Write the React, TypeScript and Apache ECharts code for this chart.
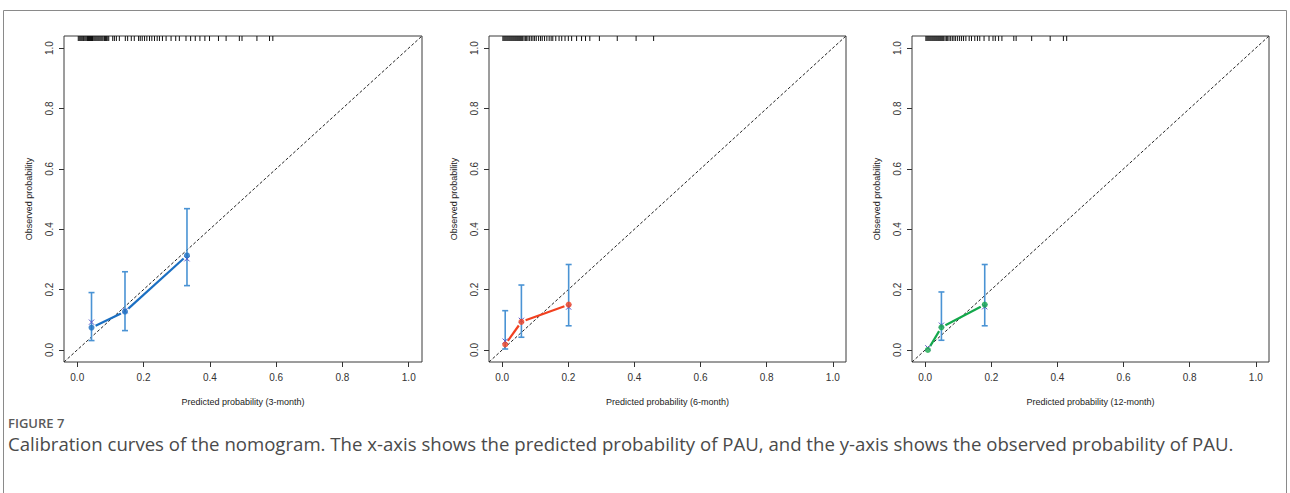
import React, { useEffect, useRef } from "react";
import * as echarts from "echarts";

const xTitles = [
  "Predicted probability (3-month)",
  "Predicted probability (6-month)",
  "Predicted probability (12-month)",
];
const yTitle = "Observed probability";
const tickValues = [0, 0.2, 0.4, 0.6, 0.8, 1.0];
const figureLabel = "FIGURE 7";
const captionText =
  "Calibration curves of the nomogram. The x-axis shows the predicted probability of PAU, and the y-axis shows the observed probability of PAU.";

// 3-month
const pred3 = [0.043, 0.144, 0.331];
const obs3 = [0.074, 0.127, 0.313];
const mark3 = [0.092, 0.13, 0.302];
const lo3 = [0.031, 0.064, 0.213];
const hi3 = [0.19, 0.259, 0.468];
// 6-month
const pred6 = [0.009, 0.058, 0.201];
const obs6 = [0.018, 0.093, 0.15];
const mark6 = [0.029, 0.098, 0.142];
const lo6 = [0.003, 0.042, 0.08];
const hi6 = [0.13, 0.215, 0.283];
// 12-month
const pred12 = [0.008, 0.049, 0.18];
const obs12 = [0.0, 0.075, 0.15];
const mark12 = [0.007, 0.082, 0.143];
const lo12 = [0.0, 0.032, 0.08];
const hi12 = [0.0, 0.192, 0.283];

// rug of predicted probabilities (top margin)
const rug3 = [0.003, 0.006, 0.009, 0.012, 0.015, 0.018, 0.02, 0.023, 0.026, 0.029, 0.031, 0.034, 0.037, 0.04, 0.043, 0.046, 0.048, 0.051, 0.054, 0.057, 0.06, 0.063, 0.066, 0.069, 0.072, 0.075, 0.078, 0.082, 0.085, 0.088, 0.092, 0.095, 0.107, 0.112, 0.118, 0.127, 0.145, 0.152, 0.163, 0.172, 0.185, 0.19, 0.196, 0.203, 0.21, 0.218, 0.225, 0.233, 0.241, 0.248, 0.257, 0.268, 0.283, 0.297, 0.308, 0.328, 0.342, 0.356, 0.37, 0.385, 0.399, 0.426, 0.449, 0.489, 0.497, 0.542, 0.58, 0.59];
const rug6 = [0.002, 0.005, 0.008, 0.011, 0.014, 0.017, 0.02, 0.023, 0.026, 0.029, 0.032, 0.035, 0.038, 0.041, 0.044, 0.047, 0.05, 0.053, 0.056, 0.059, 0.062, 0.066, 0.07, 0.074, 0.078, 0.083, 0.088, 0.093, 0.098, 0.103, 0.11, 0.116, 0.121, 0.128, 0.135, 0.142, 0.148, 0.153, 0.162, 0.172, 0.18, 0.19, 0.2, 0.21, 0.225, 0.24, 0.252, 0.265, 0.294, 0.348, 0.405, 0.458];
const rug12 = [0.002, 0.005, 0.008, 0.011, 0.014, 0.017, 0.02, 0.023, 0.026, 0.029, 0.032, 0.035, 0.038, 0.041, 0.044, 0.047, 0.05, 0.053, 0.056, 0.06, 0.064, 0.068, 0.072, 0.077, 0.082, 0.087, 0.092, 0.098, 0.104, 0.11, 0.116, 0.123, 0.133, 0.14, 0.15, 0.158, 0.165, 0.178, 0.193, 0.205, 0.212, 0.222, 0.232, 0.268, 0.275, 0.322, 0.378, 0.418, 0.428];

const panels = [
  { pred: pred3, obs: obs3, mark: mark3, lo: lo3, hi: hi3, rug: rug3, color: "#1b6fc2" },
  { pred: pred6, obs: obs6, mark: mark6, lo: lo6, hi: hi6, rug: rug6, color: "#f2401f" },
  { pred: pred12, obs: obs12, mark: mark12, lo: lo12, hi: hi12, rug: rug12, color: "#14a84b" },
];

const gridRects = [
  { left: 64, top: 36, width: 358, height: 326 },
  { left: 489, top: 36, width: 357, height: 326 },
  { left: 912, top: 36, width: 357, height: 326 },
];

const FONT = "Liberation Sans, Arial, sans-serif";
const ERR_COLOR = "#4a93d4";
const MARK_COLOR = "#5b55c8";

export default function App() {
  const ref = useRef<HTMLDivElement>(null);
  useEffect(() => {
    if (!ref.current) return;
    const chart = echarts.init(ref.current, null, { renderer: "svg" });
    const grid: any[] = [];
    const xAxis: any[] = [];
    const yAxis: any[] = [];
    const series: any[] = [];

    panels.forEach((p, i) => {
      grid.push({ ...gridRects[i], show: true, borderColor: "#3a3a3a", borderWidth: 1, backgroundColor: "transparent" });
      const axisCommon = {
        type: "value",
        gridIndex: i,
        min: -0.04,
        max: 1.04,
        axisLine: { show: false, onZero: false },
        splitLine: { show: false },
        axisTick: { show: true, inside: false, customValues: tickValues, length: 5, lineStyle: { color: "#333", width: 1 } },
        nameLocation: "middle",
        nameTextStyle: { fontFamily: FONT, fontSize: 9, color: "#222" },
      };
      xAxis.push({
        ...axisCommon,
        name: xTitles[i],
        nameGap: 35,
        axisLabel: { customValues: tickValues, formatter: (v: number) => v.toFixed(1), fontFamily: FONT, fontSize: 10, color: "#333", margin: 10 },
      });
      yAxis.push({
        ...axisCommon,
        name: yTitle,
        nameGap: 31,
        axisLabel: { customValues: tickValues, formatter: (v: number) => v.toFixed(1), fontFamily: FONT, fontSize: 10, color: "#333", margin: 10, rotate: 90 },
      });

      // diagonal reference line
      series.push({
        type: "line",
        xAxisIndex: i,
        yAxisIndex: i,
        data: [[-0.04, -0.04], [1.04, 1.04]],
        showSymbol: false,
        silent: true,
        lineStyle: { color: "#222", width: 1, type: [3, 2] },
        z: 1,
      });

      // error bars
      series.push({
        type: "custom",
        xAxisIndex: i,
        yAxisIndex: i,
        data: p.pred.map((x, k) => [x, p.lo[k], p.hi[k]]),
        renderItem: (params: any, api: any) => {
          const x = api.value(0);
          const lo = api.value(1);
          const hi = api.value(2);
          if (hi - lo <= 0) return { type: "group", children: [] };
          const a = api.coord([x, lo]);
          const b = api.coord([x, hi]);
          const cap = 3;
          const style = { stroke: ERR_COLOR, lineWidth: 1.6 };
          return {
            type: "group",
            children: [
              { type: "line", shape: { x1: a[0], y1: a[1], x2: b[0], y2: b[1] }, style },
              { type: "line", shape: { x1: a[0] - cap, y1: a[1], x2: a[0] + cap, y2: a[1] }, style },
              { type: "line", shape: { x1: b[0] - cap, y1: b[1], x2: b[0] + cap, y2: b[1] }, style },
            ],
          };
        },
        z: 2,
      });

      // connecting curve (type "b": segments with gaps around points)
      const segs = p.pred.slice(0, -1).map((x, k) => [x, p.obs[k], p.pred[k + 1], p.obs[k + 1]]);
      series.push({
        type: "custom",
        xAxisIndex: i,
        yAxisIndex: i,
        data: segs,
        renderItem: (params: any, api: any) => {
          const a = api.coord([api.value(0), api.value(1)]);
          const b = api.coord([api.value(2), api.value(3)]);
          const dx = b[0] - a[0];
          const dy = b[1] - a[1];
          const len = Math.sqrt(dx * dx + dy * dy);
          const g = Math.min(4.5, len / 3);
          const ux = dx / len;
          const uy = dy / len;
          return {
            type: "line",
            shape: { x1: a[0] + ux * g, y1: a[1] + uy * g, x2: b[0] - ux * g, y2: b[1] - uy * g },
            style: { stroke: p.color, lineWidth: 2.2 },
          };
        },
        z: 3,
      });

      // X markers
      series.push({
        type: "custom",
        xAxisIndex: i,
        yAxisIndex: i,
        data: p.pred.map((x, k) => [x, p.mark[k]]),
        renderItem: (params: any, api: any) => {
          const c = api.coord([api.value(0), api.value(1)]);
          const s = 2.6;
          const style = { stroke: MARK_COLOR, lineWidth: 1 };
          return {
            type: "group",
            children: [
              { type: "line", shape: { x1: c[0] - s, y1: c[1] - s, x2: c[0] + s, y2: c[1] + s }, style },
              { type: "line", shape: { x1: c[0] - s, y1: c[1] + s, x2: c[0] + s, y2: c[1] - s }, style },
            ],
          };
        },
        z: 4,
      });

      // observed points
      series.push({
        type: "scatter",
        xAxisIndex: i,
        yAxisIndex: i,
        data: p.pred.map((x, k) => [x, p.obs[k]]),
        symbol: "circle",
        symbolSize: 6,
        itemStyle: { color: p.color },
        z: 5,
      });

      // rug
      series.push({
        type: "custom",
        xAxisIndex: i,
        yAxisIndex: i,
        data: p.rug.map((x) => [x]),
        renderItem: (params: any, api: any) => {
          const c = api.coord([api.value(0), 1.04]);
          return {
            type: "line",
            shape: { x1: c[0], y1: c[1], x2: c[0], y2: c[1] + 5 },
            style: { stroke: "#111", lineWidth: 1 },
          };
        },
        z: 6,
      });
    });

    chart.setOption({
      animation: false,
      backgroundColor: "#ffffff",
      grid,
      xAxis,
      yAxis,
      series,
      graphic: [
        {
          type: "rect",
          shape: { x: 3.5, y: 10.5, width: 1283, height: 520 },
          style: { fill: "none", stroke: "#8a8a8a", lineWidth: 1 },
          silent: true,
        },
        {
          type: "text",
          left: 8,
          top: 416,
          style: { text: figureLabel, fontFamily: "Open Sans, sans-serif", fontSize: 13, fill: "#5a5a5a", fontWeight: 600 },
        },
        {
          type: "text",
          left: 8,
          top: 434,
          style: { text: captionText, fontFamily: "Open Sans, sans-serif", fontSize: 18.6, fill: "#4a4a4a" },
        },
      ],
    });
    return () => chart.dispose();
  }, []);
  return <div ref={ref} style={{ position: "absolute", left: 0, top: 0, width: 1290, height: 493 }} />;
}
